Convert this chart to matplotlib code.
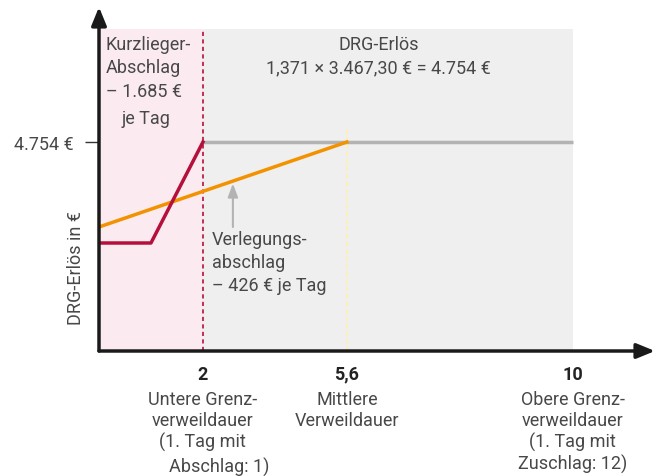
import matplotlib.pyplot as plt
import numpy as np

plt.rcParams['font.family'] = ['Roboto', 'DejaVu Sans']

# days -> horizontal position (schematic axis, not linear in the original)
day_anchor = [-2, 0, 2, 5.6, 10, 14]
pos_anchor = [-104, 0, 104, 248, 474, 680]

# data
ugvd, mvd, ogvd = 2, 5.6, 10
drg_erloes = 4754
kurz_days = [0, 1, 2]
kurz_vals = [2457, 2457, 4754]
verl_days = [0, 5.6]
verl_vals = [2821, 4754]
tick_days = [2, 5.6, 10]
tick_labels = ['2', '5,6', '10']
tick_texts = ['Untere Grenz-\nverweildauer\n(1. Tag mit',
              'Mittlere\nVerweildauer',
              'Obere Grenz-\nverweildauer\n(1. Tag mit\nZuschlag: 12)']

txt = '#484848'
fs = 13

fig = plt.figure(figsize=(6.61, 4.77), dpi=100)
ax = fig.add_axes([99 / 661, (477 - 352) / 477, 556 / 661, 344 / 477])
ax.set_xscale('function', functions=(lambda d: np.interp(d, day_anchor, pos_anchor),
                                     lambda p: np.interp(p, pos_anchor, day_anchor)))
ax.set_xlim(0, 11.6)
ax.set_ylim(0, 7826)

# background regions
top = 7325
ax.fill_between([0, ugvd], 0, top, color='#fbebf0', lw=0)
ax.fill_between([ugvd, ogvd], 0, top, color='#efefef', lw=0)

ax.axvline(ugvd, ymax=top / 7826, color='#b5103c', lw=1.2, ls=(0, (2.5, 2)))
ax.plot([mvd, mvd], [0, 5100], color='#fff2a8', lw=1.2, ls=(0, (2.5, 2)))

ax.plot([ugvd, ogvd], [drg_erloes, drg_erloes], color='#b3b3b3', lw=2.5, solid_capstyle='butt')
ax.plot(verl_days, verl_vals, color='#f39200', lw=2.5)
ax.plot(kurz_days, kurz_vals, color='#b5103c', lw=2.5)

# axes with arrows
for s in ax.spines.values():
    s.set_visible(False)
ax.annotate('', xy=(1, 0), xytext=(0, 0), xycoords='axes fraction',
            arrowprops=dict(arrowstyle='-|>,head_length=1.1,head_width=0.45', color='#1a1a1a', lw=2.5,
                            shrinkA=0, shrinkB=0))
ax.annotate('', xy=(0, 1), xytext=(0, 0), xycoords='axes fraction',
            arrowprops=dict(arrowstyle='-|>,head_length=1.1,head_width=0.45', color='#1a1a1a', lw=2.5,
                            shrinkA=0, shrinkB=0))

ax.set_xticks(tick_days)
ax.set_xticklabels(tick_labels, fontsize=fs, fontweight='bold', color='#222222')
ax.tick_params(axis='x', length=0, pad=10)
ax.set_yticks([drg_erloes])
ax.set_yticklabels(['4.754 €'], fontsize=fs, color=txt)
ax.tick_params(axis='y', length=10, width=1, color='#333333', pad=8)
ax.set_ylabel('DRG-Erlös in €', fontsize=fs, color=txt)
ax.yaxis.set_label_coords(-0.026, 0.245)

for d, t in zip(tick_days, tick_texts):
    ax.annotate(t, xy=(d, 0), xycoords=('data', 'axes fraction'), xytext=(0, -28),
                textcoords='offset points', ha='center', va='top', fontsize=fs,
                color=txt, linespacing=1.2)
ax.annotate('Abschlag: 1)', xy=(ugvd, 0), xycoords=('data', 'axes fraction'), xytext=(12, -76),
            textcoords='offset points', ha='center', va='top', fontsize=fs, color=txt)

# annotations inside the plot
ax.text(0.13, 7200, 'Kurzlieger-\nAbschlag\n– 1.685 €', fontsize=fs, color=txt,
        va='top', ha='left', linespacing=1.42)
ax.text(0.9, 5300, 'je Tag', fontsize=fs, color=txt, va='center', ha='center')
ax.text(6.22, 7200, 'DRG-Erlös\n1,371 × 3.467,30 € = 4.754 €', fontsize=fs, color=txt,
        va='top', ha='center', linespacing=1.42)
ax.text(2.22, 2750, 'Verlegungs-\nabschlag\n– 426 € je Tag', fontsize=fs, color=txt,
        va='top', ha='left', linespacing=1.35)
ax.annotate('', xy=(2.75, 3810), xytext=(2.75, 2820),
            arrowprops=dict(arrowstyle='-|>,head_length=0.8,head_width=0.3', color='#b3b3b3', lw=1.5,
                            shrinkA=0, shrinkB=0))

fig.savefig('out.png', dpi=100)
